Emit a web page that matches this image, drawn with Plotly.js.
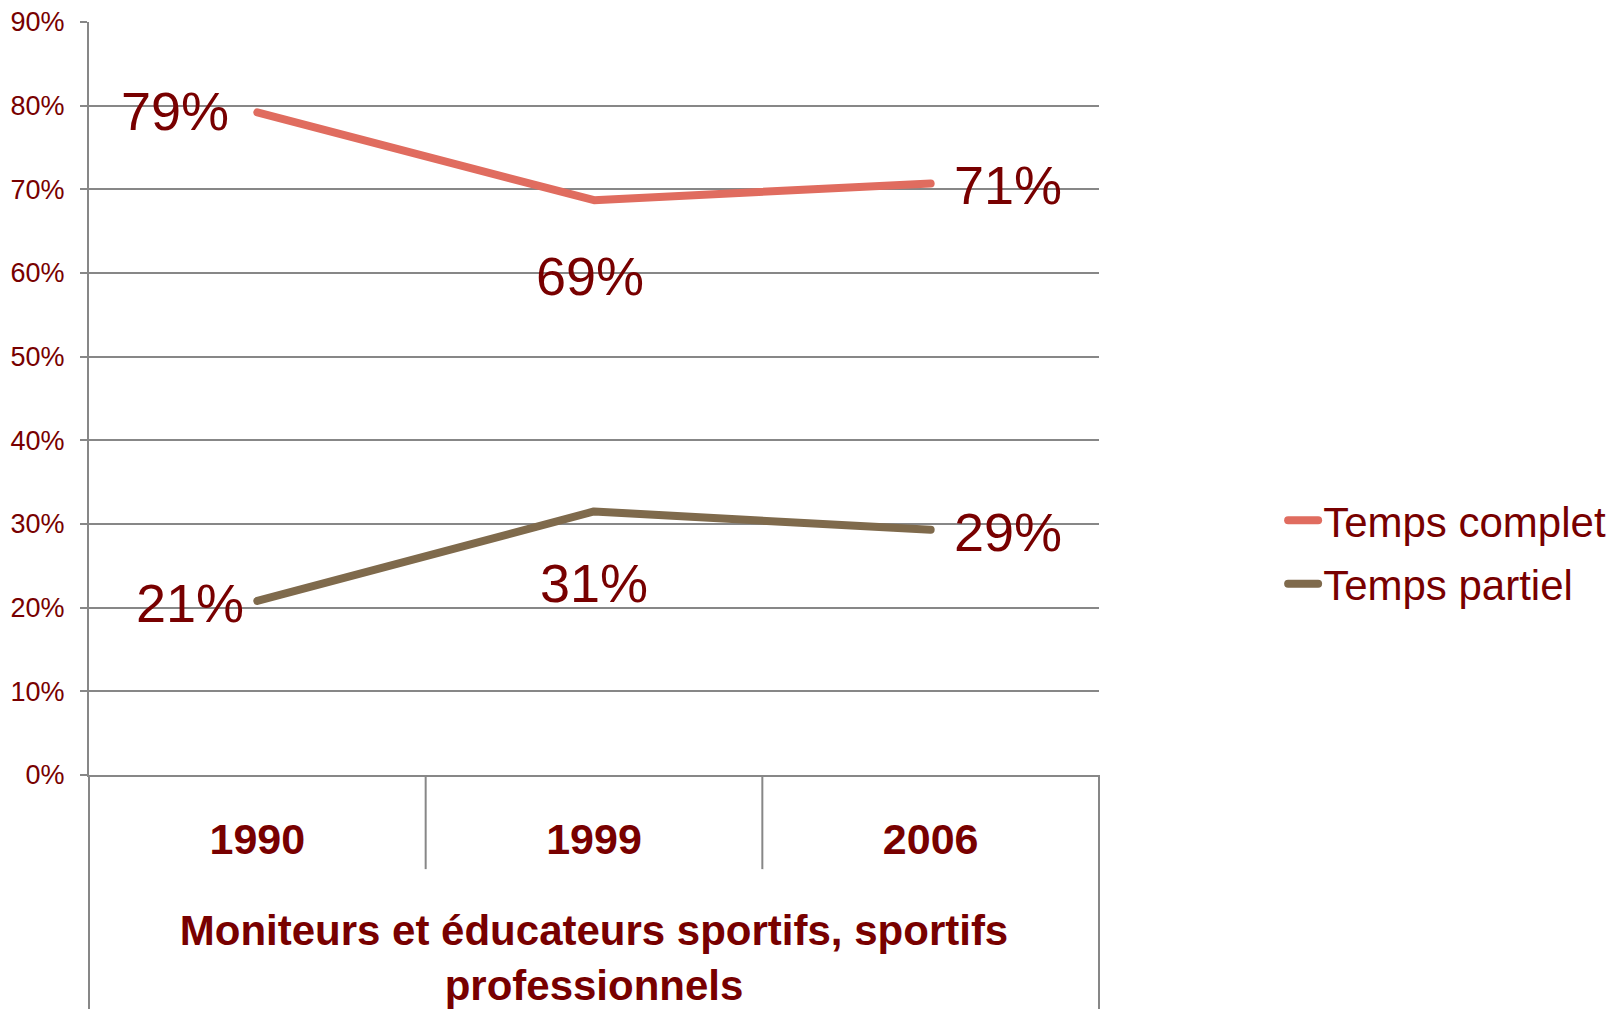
<!DOCTYPE html>
<html>
<head>
<meta charset="utf-8">
<script src="https://cdn.plot.ly/plotly-3.0.1.min.js"></script>
<style>
html,body{margin:0;padding:0;background:#fff;}
#chart{width:1614px;height:1009px;}
#chart .js-line, #chart .legendlines path{stroke-linecap:round;stroke-linejoin:round;}
</style>
</head>
<body>
<div id="chart"></div>
<script>
// ---- data ----
var years = ['1990', '1999', '2006'];
var groupLabel = 'Moniteurs et éducateurs sportifs, sportifs<br>professionnels';
var seriesNames = ['Temps complet', 'Temps partiel'];
var tempsComplet = [0.792, 0.687, 0.707];
var tempsPartiel = [0.208, 0.315, 0.293];
var labelsComplet = ['79%', '69%', '71%'];
var labelsPartiel = ['21%', '31%', '29%'];
var yTickVals = [0, 0.1, 0.2, 0.3, 0.4, 0.5, 0.6, 0.7, 0.8, 0.9];

// ---- styles ----
var textColor = '#780000';
var gridColor = '#878787';
var fontFam = 'Liberation Sans, Arial, sans-serif';
var colors = ['#E06C5F', '#7F6A4C'];
// label offsets (px) per series/point
var shiftsComplet = [[-82, 1], [-4, -76], [77, -2]];
var shiftsPartiel = [[-67, -2], [0, -72], [77, -2]];

var traces = [
  {x: years, y: tempsComplet, name: seriesNames[0], legendgroup: 'a', type: 'scatter', mode: 'lines',
   line: {color: colors[0], width: 8}, hoverinfo: 'skip'},
  {x: years, y: tempsPartiel, name: seriesNames[1], legendgroup: 'b', type: 'scatter', mode: 'lines',
   line: {color: colors[1], width: 8}, hoverinfo: 'skip'}
];

var annotations = [];
function addLabels(vals, labels, shifts) {
  for (var i = 0; i < vals.length; i++) {
    annotations.push({
      // category index on the category axis (numeric-looking names would be read as positions)
      x: years.indexOf(years[i]), y: vals[i], xref: 'x', yref: 'y', text: labels[i], showarrow: false,
      xanchor: 'center', yanchor: 'middle', xshift: shifts[i][0], yshift: shifts[i][1],
      font: {family: fontFam, size: 54, color: textColor}
    });
  }
}
addLabels(tempsComplet, labelsComplet, shiftsComplet);
addLabels(tempsPartiel, labelsPartiel, shiftsPartiel);

// category boundary lines below the axis
var shapes = [];
var n = years.length;
for (var k = 0; k <= n; k++) {
  var full = (k === 0 || k === n);
  shapes.push({type: 'line', xref: 'paper', yref: 'paper', x0: k / n, x1: k / n,
    y0: 0, y1: full ? -0.32 : -0.125, line: {color: gridColor, width: 2}});
}

var layout = {
  width: 1614, height: 1009,
  margin: {l: 89, r: 515, t: 22, b: 234},
  paper_bgcolor: '#fff', plot_bgcolor: '#fff',
  showlegend: true,
  legend: {
    xref: 'container', yref: 'container', x: 0.795, y: 0.518, xanchor: 'left', yanchor: 'top',
    tracegroupgap: 6,
    font: {family: fontFam, size: 42, color: textColor}, bgcolor: 'rgba(0,0,0,0)'
  },
  xaxis: {
    type: 'category', range: [-0.5, 2.5], showgrid: false, zeroline: false,
    showline: true, linecolor: gridColor, linewidth: 2, ticks: '',
    tickfont: {family: fontFam, size: 43, color: textColor, weight: 'bold'},
    ticklabelstandoff: 25,
    title: {text: groupLabel, standoff: 55,
      font: {family: fontFam, size: 42, color: textColor, weight: 'bold'}}
  },
  yaxis: {
    range: [0, 0.9], tickvals: yTickVals, tickformat: '.0%',
    showgrid: true, gridcolor: gridColor, gridwidth: 2, zeroline: false,
    showline: true, linecolor: gridColor, linewidth: 2,
    ticks: 'outside', ticklen: 7, tickwidth: 2, tickcolor: gridColor,
    tickfont: {family: fontFam, size: 27, color: textColor},
    ticklabelstandoff: 10
  },
  annotations: annotations,
  shapes: shapes
};

Plotly.newPlot('chart', traces, layout, {staticPlot: true});
</script>
</body>
</html>
